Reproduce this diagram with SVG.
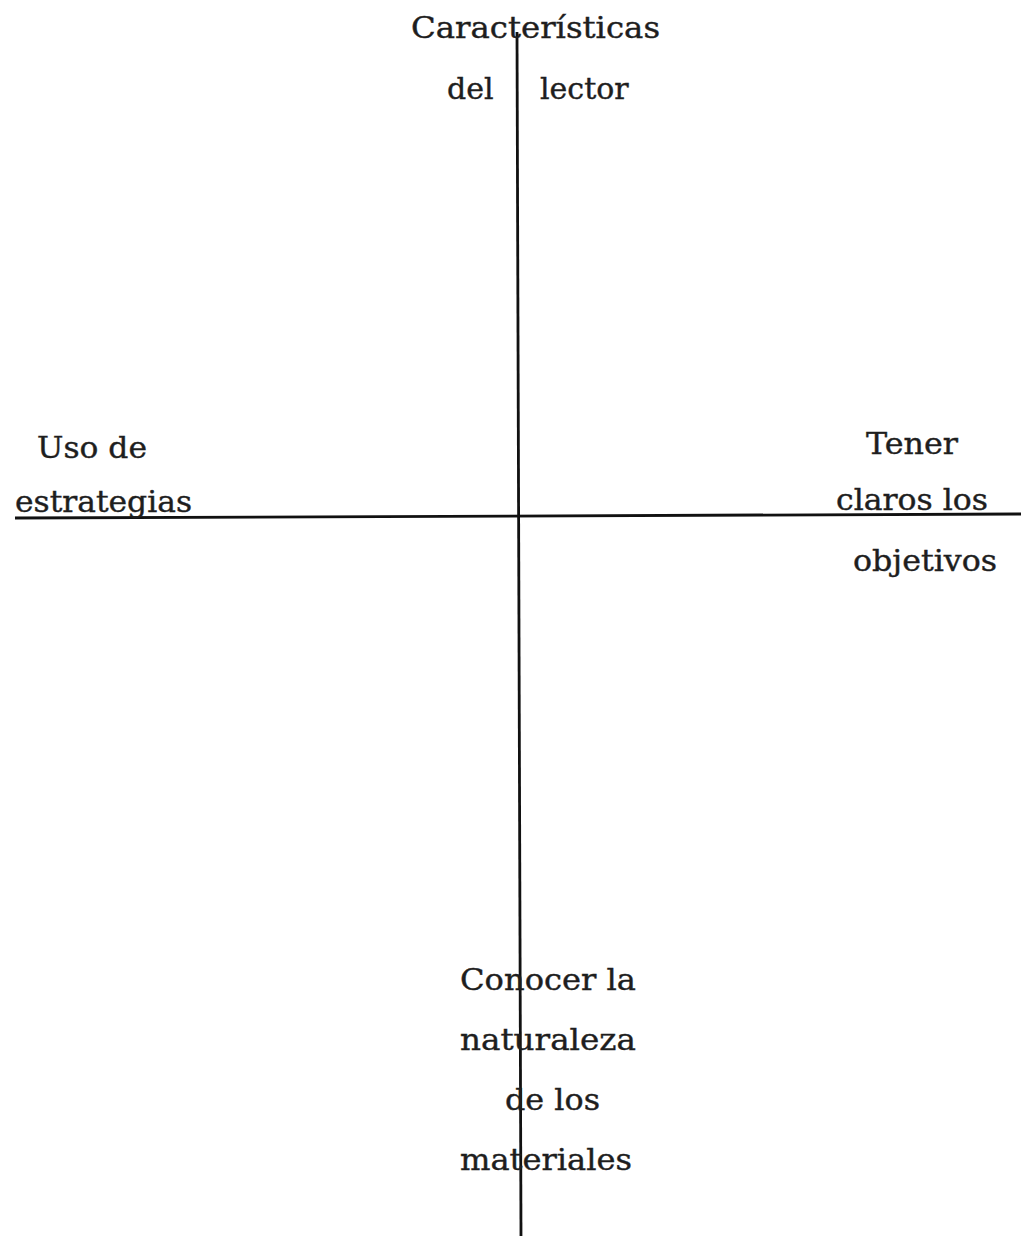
<svg xmlns="http://www.w3.org/2000/svg" width="1021" height="1236" viewBox="0 0 1021 1236">
<style>
.t{font-family:"DejaVu Serif","Liberation Serif",serif;font-size:30px;fill:#1e1e1e;stroke:#1e1e1e;stroke-width:0.4}
.ax{stroke:#111;stroke-width:2.8;fill:none}
</style>
<rect width="1021" height="1236" fill="#fff"/>
<g id="connectors">
<line class="ax" x1="517" y1="32" x2="521" y2="1236"/>
<line class="ax" x1="15" y1="518" x2="1021" y2="514"/>
</g>
<g id="node-top">
<text class="t" x="411" y="38" textLength="249" lengthAdjust="spacingAndGlyphs">Características</text>
<text class="t" y="99"><tspan x="447">del</tspan><tspan x="540">lector</tspan></text>
</g>
<g id="node-left">
<text class="t" x="37" y="458" textLength="110" lengthAdjust="spacingAndGlyphs">Uso de</text>
<text class="t" x="15" y="512" textLength="177" lengthAdjust="spacingAndGlyphs">estrategias</text>
</g>
<g id="node-right">
<text class="t" x="866" y="454" textLength="92" lengthAdjust="spacingAndGlyphs">Tener</text>
<text class="t" x="836" y="510" textLength="152" lengthAdjust="spacingAndGlyphs">claros los</text>
<text class="t" x="853" y="571" textLength="144" lengthAdjust="spacingAndGlyphs">objetivos</text>
</g>
<g id="node-bottom">
<text class="t" x="460" y="990" textLength="176" lengthAdjust="spacingAndGlyphs">Conocer la</text>
<text class="t" x="460" y="1050" textLength="176" lengthAdjust="spacingAndGlyphs">naturaleza</text>
<text class="t" x="505" y="1110" textLength="95" lengthAdjust="spacingAndGlyphs">de los</text>
<text class="t" x="460" y="1170" textLength="172" lengthAdjust="spacingAndGlyphs">materiales</text>
</g>
</svg>
